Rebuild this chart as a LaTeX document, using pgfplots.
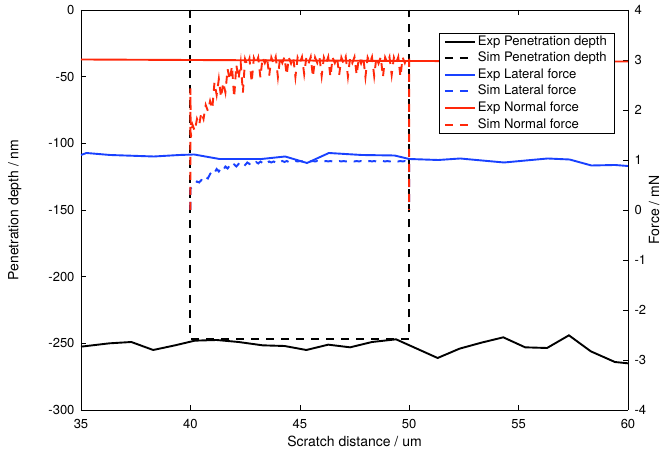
\documentclass[border=0pt]{standalone}
\usepackage{pgfplots}
\pgfplotsset{compat=1.18}
\usepackage{fontspec}
\setmainfont{TeX Gyre Heros}

\definecolor{expblue}{RGB}{25,65,255}
\definecolor{expred}{RGB}{255,40,10}

\pgfplotsset{
  scratchaxis/.style={
    scale only axis, width=547pt, height=400pt,
    xmin=35, xmax=60,
    /pgf/number format/assume math mode=true,
    tick align=inside, major tick length=5pt,
    every tick/.style={black, line width=0.5pt},
    axis line style={black, line width=0.6pt},
    tick label style={font=\fontsize{13}{15}\selectfont},
    label style={font=\fontsize{14}{16}\selectfont},
  },
  simdash/.style={dash pattern=on 8pt off 7pt},
  thickline/.style={line width=1.9pt},
}

\begin{document}
\begin{tikzpicture}
% left axis: penetration depth
\begin{axis}[scratchaxis,
  ymin=-300, ymax=0,
  axis y line*=left,
  xtick={35,40,...,60},
  ytick={-300,-250,...,0},
  xticklabel style={yshift=-6pt},
  yticklabel style={xshift=-3pt},
  xlabel={Scratch distance / um},
  ylabel={Penetration depth / nm},
  xlabel style={at={(axis description cs:0.5,-0.078)}, anchor=center},
  ylabel style={at={(axis description cs:-0.121,0.5)}, anchor=center},
]
\addplot[black, thickline] coordinates {
 (35.0,-252.5) (36.3,-250) (37.3,-249) (38.3,-255) (39.3,-251.5)
 (40.2,-248) (41.2,-247.5) (42.2,-249) (43.3,-251.5) (44.3,-252)
 (45.3,-255) (46.3,-251) (47.3,-253) (48.3,-249) (49.4,-247)
 (51.3,-261) (52.3,-254) (53.3,-249.5) (54.3,-245.5) (55.3,-253)
 (56.3,-253.5) (57.3,-244) (58.3,-256) (59.4,-264) (60.0,-265)
};
\addplot[black, thickline, simdash] coordinates {
 (40,0) (40,-247) (50,-247) (50,0)
};
\end{axis}

% right axis: forces
\begin{axis}[scratchaxis,
  ymin=-4, ymax=4,
  axis y line*=right,
  axis x line=none,
  ytick={-4,-3,...,4},
  yticklabel style={xshift=3pt},
  ylabel={Force / mN},
  ylabel style={at={(axis description cs:1.048,0.5)}, anchor=center},
  legend cell align=left,
  legend style={at={(axis description cs:0.9744,0.9425)}, anchor=north east,
    draw=black, fill=white,
    font=\fontsize{13.1}{15}\selectfont,
    inner xsep=5pt, inner ysep=2.5pt, row sep=4.6pt,
    nodes={inner ysep=0pt, inner xsep=2pt, text height=9.5pt, text depth=2.5pt}},
  legend image code/.code={\draw[#1] (0pt,0pt) -- (30pt,0pt);},
]
\addplot[expblue, thickline, forget plot] coordinates {
 (35.0,1.10) (35.25,1.14) (36.33,1.10) (38.33,1.07) (39.5,1.10)
 (40.17,1.11) (41.33,1.02) (43.25,1.02) (44.33,1.07) (45.33,0.94)
 (46.33,1.14) (47.83,1.10) (49.33,1.09) (50.0,1.02) (51.33,1.00)
 (52.33,1.03) (54.33,0.95) (56.33,1.03) (57.33,1.01) (58.33,0.89)
 (59.4,0.90) (60.0,0.88)
};

\addplot[expblue, thickline, simdash, forget plot] coordinates {
 (40.0,0) (40.0,0.43) (40.1,0.46) (40.2,0.50) (40.3,0.57) (40.4,0.55)
 (40.5,0.60) (40.6,0.58) (40.7,0.66) (40.8,0.63) (40.9,0.72) (41.0,0.78)
 (41.1,0.74) (41.2,0.82) (41.3,0.77) (41.4,0.84) (41.5,0.80) (41.6,0.87)
 (41.7,0.83) (41.8,0.89) (41.9,0.85) (42.0,0.91) (42.1,0.87) (42.2,0.92)
 (42.3,0.89) (42.4,0.94) (42.5,0.90) (42.6,0.95) (42.7,0.92) (42.8,0.96)
 (42.9,0.93) (43.0,0.96) (43.1,0.93) (43.2,0.97) (43.3,0.94) (43.4,0.97)
 (43.5,0.94) (43.6,0.97) (43.7,0.95) (43.8,0.97) (43.9,0.95) (44.0,0.98)
 (44.1,0.96) (44.2,0.98) (44.3,0.96) (44.4,0.98) (44.5,0.96) (44.6,0.98)
 (44.7,0.97) (44.8,0.98) (44.9,0.97) (45.0,0.98) (45.1,0.97) (45.2,0.98)
 (45.3,0.97) (45.4,0.98) (45.5,0.97) (45.6,0.98) (45.7,0.97) (45.8,0.98)
 (45.9,0.97) (46.0,0.98) (46.1,0.97) (46.2,0.98) (46.3,0.97) (46.4,0.98)
 (46.5,0.97) (46.6,0.98) (46.7,0.97) (46.8,0.98) (46.9,0.97) (47.0,0.98)
 (47.1,0.97) (47.2,0.98) (47.3,0.97) (47.4,0.98) (47.5,0.97) (47.6,0.98)
 (47.7,0.97) (47.8,0.98) (47.9,0.97) (48.0,0.98) (48.1,0.97) (48.2,0.98)
 (48.3,0.97) (48.4,0.98) (48.5,0.97) (48.6,0.98) (48.7,0.97) (48.8,0.98)
 (48.9,0.97) (49.0,0.98) (49.1,0.97) (49.2,0.98) (49.3,0.97) (49.4,0.98)
 (49.5,0.97) (49.6,0.98) (49.7,0.97) (49.8,0.98) (49.9,0.97) (50.0,0.98)
 (50.0,0)
};

\addplot[expred, thickline, forget plot] coordinates {
 (35,3.01) (40,3.00) (45,2.99) (50,2.98) (55,2.975) (60,2.97)
};

\addplot[expred, thickline, simdash, forget plot] coordinates {
 (40.0,0) (40.0,2.43) (40.02,1.45) (40.1,1.70) (40.2,1.58) (40.3,1.82)
 (40.4,1.70) (40.5,1.95) (40.6,1.82) (40.7,2.10) (40.8,1.98) (40.9,2.18)
 (41.0,2.02) (41.1,2.55) (41.2,2.30) (41.3,2.62) (41.4,2.25) (41.5,2.55)
 (41.6,2.35) (41.7,2.82) (41.8,2.60) (41.9,2.88) (42.0,2.25) (42.1,2.90)
 (42.2,2.62) (42.3,2.95) (42.4,2.35) (42.5,3.02) (42.6,2.90) (42.7,3.03)
 (42.8,2.55) (42.9,3.04) (43.0,2.93) (43.1,3.05) (43.2,2.65) (43.3,3.05)
 (43.4,2.94) (43.5,3.06) (43.6,2.68) (43.7,3.05) (43.8,2.93) (43.9,3.06)
 (44.0,2.66) (44.1,3.05) (44.2,2.94) (44.3,3.06) (44.4,2.70) (44.5,3.05)
 (44.6,2.93) (44.7,3.06) (44.8,2.66) (44.9,3.05) (45.0,2.94) (45.1,3.06)
 (45.2,2.72) (45.3,3.05) (45.4,2.93) (45.5,3.06) (45.6,2.66) (45.7,3.05)
 (45.8,2.94) (45.9,3.06) (46.0,2.68) (46.1,3.05) (46.2,2.93) (46.3,3.06)
 (46.4,2.66) (46.5,3.05) (46.6,2.94) (46.7,3.06) (46.8,2.70) (46.9,3.05)
 (47.0,2.93) (47.1,3.06) (47.2,2.67) (47.3,3.05) (47.4,2.94) (47.5,3.06)
 (47.6,2.70) (47.7,3.05) (47.8,2.93) (47.9,3.06) (48.0,2.66) (48.1,3.05)
 (48.2,2.94) (48.3,3.06) (48.4,2.68) (48.5,3.05) (48.6,2.93) (48.7,3.06)
 (48.8,2.66) (48.9,3.05) (49.0,2.94) (49.1,3.06) (49.2,2.70) (49.3,3.05)
 (49.4,2.93) (49.5,3.06) (49.6,2.66) (49.7,3.05) (49.8,2.94) (49.9,3.06)
 (50.0,3.02) (50.0,0)
};

% legend, one entry per series
\addlegendimage{black, line width=2pt}
\addlegendentry{Exp Penetration depth}
\addlegendimage{black, line width=2pt, dash pattern=on 8pt off 7pt}
\addlegendentry{Sim Penetration depth}
\addlegendimage{expblue, line width=2pt}
\addlegendentry{Exp Lateral force}
\addlegendimage{expblue, line width=2pt, dash pattern=on 8pt off 7pt}
\addlegendentry{Sim Lateral force}
\addlegendimage{expred, line width=2pt}
\addlegendentry{Exp Normal force}
\addlegendimage{expred, line width=2pt, dash pattern=on 8pt off 7pt}
\addlegendentry{Sim Normal force}
\end{axis}

\pgfresetboundingbox
\path[use as bounding box] (-81pt,-47pt) rectangle (584pt,410pt);
\end{tikzpicture}
\end{document}
